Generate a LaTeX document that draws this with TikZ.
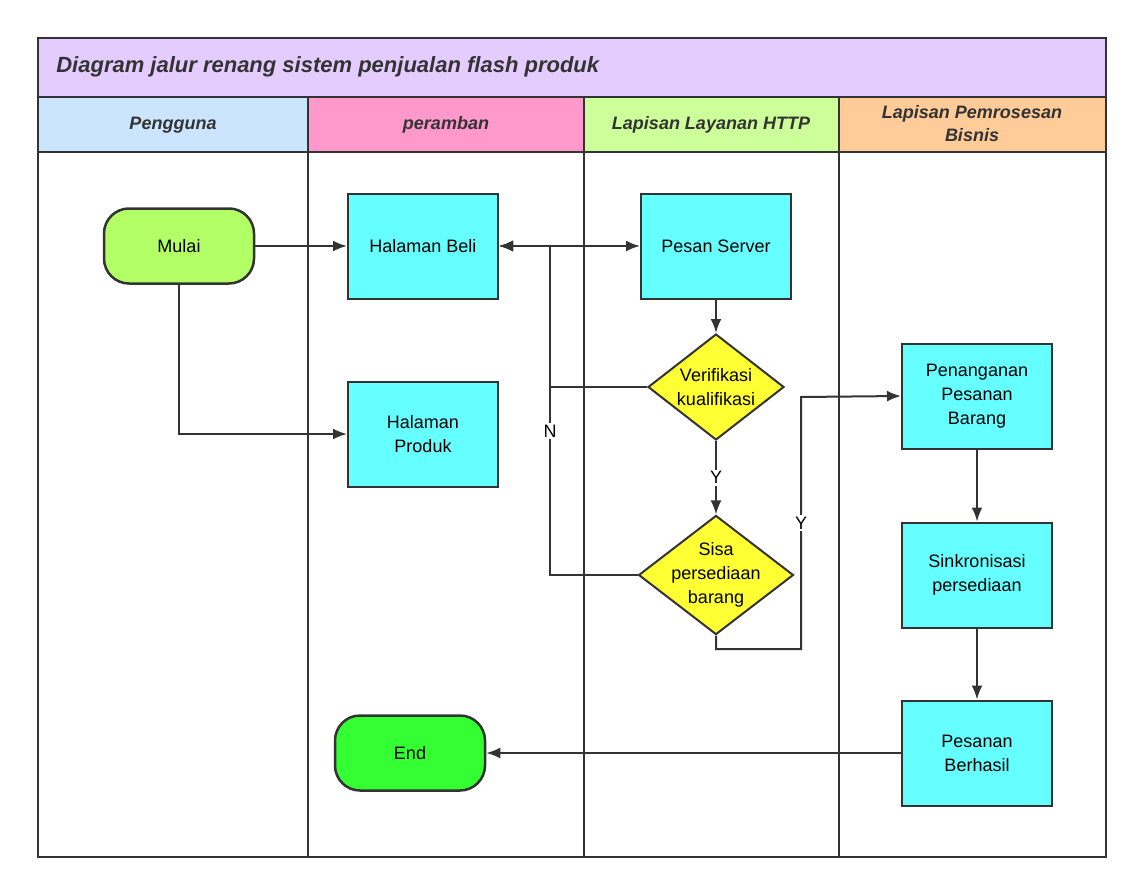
\documentclass[tikz,border=0pt]{standalone}
\usepackage{fontspec}
\setmainfont{Liberation Sans}
\usetikzlibrary{shapes.geometric,arrows.meta}
\definecolor{boxcyan}{HTML}{66FFFF}
\definecolor{titlelav}{HTML}{E5CCFF}
\definecolor{headblue}{HTML}{CCE5FF}
\definecolor{headpink}{HTML}{FF99CC}
\definecolor{headgreen}{HTML}{CCFF99}
\definecolor{headorange}{HTML}{FFCC99}
\definecolor{startgreen}{HTML}{B2FF66}
\definecolor{endgreen}{HTML}{33FF33}
\definecolor{decyellow}{HTML}{FFFF33}
\definecolor{linegray}{HTML}{333333}
\begin{document}
\begin{tikzpicture}[x=1pt,y=-1pt, line width=2pt,
    box_style/.style={rectangle,draw=linegray,line width=2pt,fill=boxcyan,minimum width=150pt,minimum height=105pt,align=center,font=\fontsize{18}{24}\selectfont},
    term_style/.style={rectangle,rounded corners=25pt,draw=linegray,line width=2.5pt,minimum width=150pt,minimum height=75pt,font=\fontsize{18}{20}\selectfont},
    dec_style/.style={diamond,draw=linegray,line width=2pt,fill=decyellow,aspect=1.3,inner sep=-4pt,align=center,font=\fontsize{18}{24}\selectfont},
    lane_style/.style={draw=linegray, line width=2.5pt},
    head_style/.style={font=\fontsize{18}{23}\selectfont\bfseries\itshape,text=linegray,align=center},
    edge_style/.style={draw=linegray, line width=2pt, -{Latex[length=14pt,width=11pt]}},
    lab_style/.style={fill=white,font=\fontsize{18}{20}\selectfont,inner sep=2pt}]

    \useasboundingbox (0,0) rectangle (1143,894);
    % lanes
    \filldraw[lane_style,fill=titlelav] (38,38) rectangle (1106,97);
    \node[anchor=west,font=\fontsize{22}{26}\selectfont\bfseries\itshape,text=linegray] (title) at (52,67) {Diagram jalur renang sistem penjualan flash produk};
    \filldraw[lane_style,fill=headblue] (38,97) rectangle (308,152);
    \filldraw[lane_style,fill=headpink] (308,97) rectangle (584,152);
    \filldraw[lane_style,fill=headgreen] (584,97) rectangle (839,152);
    \filldraw[lane_style,fill=headorange] (839,97) rectangle (1106,152);
    \draw[lane_style] (38,152) rectangle (308,857) (308,152) rectangle (584,857)
        (584,152) rectangle (839,857) (839,152) rectangle (1106,857);
    \node[head_style] (h1) at (173,125) {Pengguna};
    \node[head_style] (h2) at (446,125) {peramban};
    \node[head_style] (h3) at (711,125) {Lapisan Layanan HTTP};
    \node[head_style] (h4) at (972,124) {Lapisan Pemrosesan\\Bisnis};

    % nodes
    \node[term_style,fill=startgreen] (mulai) at (179,246) {Mulai};
    \node[box_style] (beli) at (423,246) {Halaman Beli};
    \node[box_style] (produk) at (423,434) {Halaman\\Produk};
    \node[box_style] (server) at (716,246) {Pesan Server};
    \node[dec_style,minimum width=136pt,minimum height=106pt] (verif) at (716,387) {Verifikasi\\kualifikasi};
    \node[dec_style,minimum width=152pt,minimum height=114pt] (sisa) at (716,575) {Sisa\\persediaan\\barang};
    \node[box_style] (tangan) at (977,396) {Penanganan\\Pesanan\\Barang};
    \node[box_style] (sinkron) at (977,575) {Sinkronisasi\\persediaan};
    \node[box_style] (hasil) at (977,753) {Pesanan\\Berhasil};
    \node[term_style,fill=endgreen] (end) at (410,753) {End};
    \coordinate (nv) at (550,387);
    \coordinate (ns) at (550,575);
    \coordinate (nt) at (550,246);
    \coordinate (yb) at (716,649);
    \coordinate (yc) at (801,649);
    \coordinate (yt) at (801,397);

    % edges
    \draw[edge_style] (mulai) -- (beli);
    \draw[edge_style] (mulai.south) |- (produk.west);
    \draw[edge_style,{Latex[length=14pt,width=11pt]}-{Latex[length=14pt,width=11pt]}] (beli) -- (server);
    \draw[edge_style] (verif.west) -- (nv) -- (nt) -- (beli.east);
    \draw[edge_style] (sisa.west) -- (ns) -- (nt) -- (beli.east);
    \node[lab_style] (n) at (550,431) {N};
    \draw[edge_style] (server) -- (verif);
    \draw[edge_style] (verif) -- node[lab_style]{Y} (sisa);
    \draw[edge_style] (sisa.south) -- (yb) -- (yc) -- node[lab_style,pos=0.5]{Y} (yt) -- (tangan.west);
    \draw[edge_style] (tangan) -- (sinkron);
    \draw[edge_style] (sinkron) -- (hasil);
    \draw[edge_style] (hasil) -- (end);
\end{tikzpicture}
\end{document}
